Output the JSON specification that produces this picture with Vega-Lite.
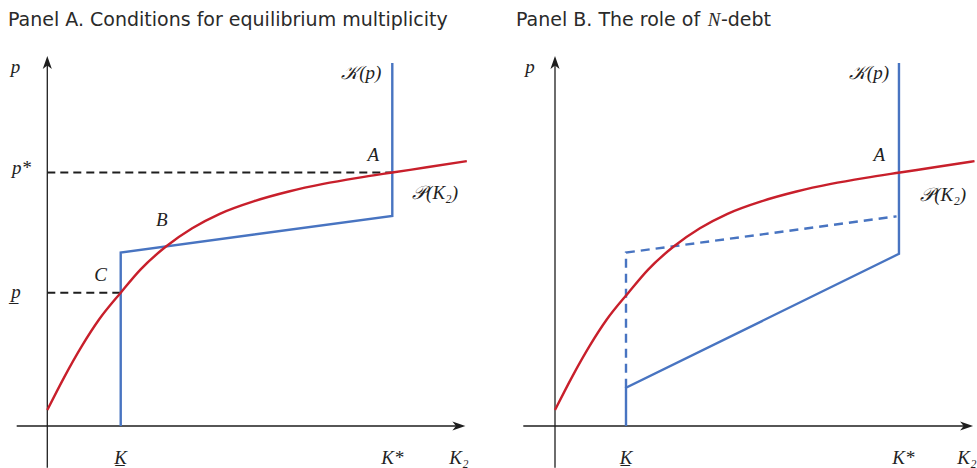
{
  "$schema": "https://vega.github.io/schema/vega-lite/v6.json",
  "padding": 0,
  "spacing": 0,
  "background": "white",
  "config": {"view": {"stroke": null}, "concat": {"spacing": 0}},
  "datasets": {
    "curve": [
      {"x": 0, "y": 0.063}, {"x": 0.05, "y": 0.195}, {"x": 0.1, "y": 0.315}, {"x": 0.15, "y": 0.42},
      {"x": 0.2128, "y": 0.526}, {"x": 0.27, "y": 0.617}, {"x": 0.344, "y": 0.708}, {"x": 0.42, "y": 0.78},
      {"x": 0.5, "y": 0.837}, {"x": 0.6, "y": 0.887}, {"x": 0.7, "y": 0.925}, {"x": 0.8, "y": 0.955},
      {"x": 0.9, "y": 0.979}, {"x": 1.0, "y": 1.0}, {"x": 1.1, "y": 1.0205}, {"x": 1.216, "y": 1.045}
    ],
    "axesA": [
      {"seg": "x", "i": 0, "x": -0.0887, "y": 0}, {"seg": "x", "i": 1, "x": 1.19, "y": 0},
      {"seg": "y", "i": 0, "x": 0, "y": -0.165}, {"seg": "y", "i": 1, "x": 0, "y": 1.425}
    ],
    "axesB": [
      {"seg": "x", "i": 0, "x": -0.0919, "y": 0}, {"seg": "x", "i": 1, "x": 1.19, "y": 0},
      {"seg": "y", "i": 0, "x": 0, "y": -0.165}, {"seg": "y", "i": 1, "x": 0, "y": 1.425}
    ],
    "arrows": [
      {"dir": "up", "x": 0, "y": 1.434},
      {"dir": "right", "x": 1.193, "y": 0}
    ],
    "blueA": [
      {"seg": "a", "i": 0, "x": 0.2128, "y": 0}, {"seg": "a", "i": 1, "x": 0.2128, "y": 0.684},
      {"seg": "a", "i": 2, "x": 1.0, "y": 0.829}, {"seg": "a", "i": 3, "x": 1.0, "y": 1.432}
    ],
    "dashA": [
      {"seg": "pstar", "i": 0, "x": 0, "y": 1.0}, {"seg": "pstar", "i": 1, "x": 1.0, "y": 1.0},
      {"seg": "plow", "i": 0, "x": 0, "y": 0.526}, {"seg": "plow", "i": 1, "x": 0.2128, "y": 0.526}
    ],
    "blueB": [
      {"seg": "a", "i": 0, "x": 0.2058, "y": 0}, {"seg": "a", "i": 1, "x": 0.2058, "y": 0.151},
      {"seg": "a", "i": 2, "x": 0.997, "y": 0.679}, {"seg": "a", "i": 3, "x": 0.997, "y": 1.432}
    ],
    "blueDashB": [
      {"seg": "a", "i": 0, "x": 0.2058, "y": 0.151}, {"seg": "a", "i": 1, "x": 0.2058, "y": 0.684},
      {"seg": "a", "i": 2, "x": 0.99, "y": 0.827}
    ],
    "labelsA": [
      {"label": "p", "x": -0.092, "y": 1.416},
      {"label": "p*", "x": -0.075, "y": 1.018},
      {"label": "p̲", "x": -0.091, "y": 0.529},
      {"label": "K̲", "x": 0.2128, "y": -0.126},
      {"label": "K*", "x": 1.0, "y": -0.126},
      {"label": "K₂", "x": 1.193, "y": -0.126},
      {"label": "A", "x": 0.945, "y": 1.069},
      {"label": "B", "x": 0.3316, "y": 0.8126},
      {"label": "C", "x": 0.1548, "y": 0.5957},
      {"label": "𝒦(p)", "x": 0.91, "y": 1.3925},
      {"label": "𝒫(K₂)", "x": 1.124, "y": 0.919}
    ],
    "labelsB": [
      {"label": "p", "x": -0.0725, "y": 1.416},
      {"label": "K̲", "x": 0.2058, "y": -0.126},
      {"label": "K*", "x": 1.01, "y": -0.126},
      {"label": "K₂", "x": 1.194, "y": -0.126},
      {"label": "A", "x": 0.94, "y": 1.069},
      {"label": "𝒦(p)", "x": 0.91, "y": 1.3925},
      {"label": "𝒫(K₂)", "x": 1.125, "y": 0.911}
    ],
    "titleA": [{"label": "Panel A. Conditions for equilibrium multiplicity", "x": -0.1139, "y": 1.579}],
    "titleB": [{"label": "Panel B. The role of ", "x": -0.113, "y": 1.579}],
    "titleBN": [{"label": "N", "x": 0.461, "y": 1.579}],
    "titleBrest": [{"label": "-debt", "x": 0.481, "y": 1.579}]
  },
  "hconcat": [
    {
      "width": 490,
      "height": 468,
      "encoding": {
        "x": {"field": "x", "type": "quantitative", "scale": {"domain": [-0.1371, 1.2832], "nice": false, "zero": false}, "axis": null},
        "y": {"field": "y", "type": "quantitative", "scale": {"domain": [-0.1657, 1.6805], "nice": false, "zero": false}, "axis": null}
      },
      "layer": [
        {"data": {"name": "axesA"}, "mark": {"type": "line", "color": "#1e1e1e", "strokeWidth": 1.3}, "encoding": {"detail": {"field": "seg"}, "order": {"field": "i"}}},
        {"data": {"name": "arrows"}, "mark": {"type": "point", "filled": true, "color": "#1e1e1e", "opacity": 1, "size": 169},
          "encoding": {"shape": {"field": "dir", "type": "nominal", "scale": {"domain": ["up", "right"], "range": ["M0,-1L0.7,1L0,0.45L-0.7,1Z", "M1,0L-1,0.7L-0.45,0L-1,-0.7Z"]}, "legend": null}}},
        {"data": {"name": "dashA"}, "mark": {"type": "line", "color": "#1e1e1e", "strokeWidth": 2, "strokeDash": [8, 5]}, "encoding": {"detail": {"field": "seg"}, "order": {"field": "i"}}},
        {"data": {"name": "blueA"}, "mark": {"type": "line", "color": "#4874c1", "strokeWidth": 2.4, "strokeJoin": "miter"}, "encoding": {"order": {"field": "i"}}},
        {"data": {"name": "curve"}, "mark": {"type": "line", "color": "#c81f2b", "strokeWidth": 2.4, "interpolate": "monotone"}},
        {"data": {"name": "labelsA"}, "mark": {"type": "text", "font": "Liberation Serif", "fontStyle": "italic", "fontSize": 19, "color": "#222", "align": "center", "baseline": "middle"}, "encoding": {"text": {"field": "label"}}},
        {"data": {"name": "titleA"}, "mark": {"type": "text", "font": "DejaVu Sans", "fontSize": 19, "color": "#2a2a2a", "align": "left", "baseline": "alphabetic"}, "encoding": {"text": {"field": "label"}}}
      ]
    },
    {
      "width": 487,
      "height": 468,
      "encoding": {
        "x": {"field": "x", "type": "quantitative", "scale": {"domain": [-0.18841, 1.22319], "nice": false, "zero": false}, "axis": null},
        "y": {"field": "y", "type": "quantitative", "scale": {"domain": [-0.1657, 1.6805], "nice": false, "zero": false}, "axis": null}
      },
      "layer": [
        {"data": {"name": "axesB"}, "mark": {"type": "line", "color": "#1e1e1e", "strokeWidth": 1.3}, "encoding": {"detail": {"field": "seg"}, "order": {"field": "i"}}},
        {"data": {"name": "arrows"}, "mark": {"type": "point", "filled": true, "color": "#1e1e1e", "opacity": 1, "size": 169},
          "encoding": {"shape": {"field": "dir", "type": "nominal", "scale": {"domain": ["up", "right"], "range": ["M0,-1L0.7,1L0,0.45L-0.7,1Z", "M1,0L-1,0.7L-0.45,0L-1,-0.7Z"]}, "legend": null}}},
        {"data": {"name": "blueDashB"}, "mark": {"type": "line", "color": "#4874c1", "strokeWidth": 2.4, "strokeDash": [9, 6]}, "encoding": {"order": {"field": "i"}}},
        {"data": {"name": "blueB"}, "mark": {"type": "line", "color": "#4874c1", "strokeWidth": 2.4, "strokeJoin": "miter"}, "encoding": {"order": {"field": "i"}}},
        {"data": {"name": "curve"}, "mark": {"type": "line", "color": "#c81f2b", "strokeWidth": 2.4, "interpolate": "monotone"}},
        {"data": {"name": "labelsB"}, "mark": {"type": "text", "font": "Liberation Serif", "fontStyle": "italic", "fontSize": 19, "color": "#222", "align": "center", "baseline": "middle"}, "encoding": {"text": {"field": "label"}}},
        {"data": {"name": "titleB"}, "mark": {"type": "text", "font": "DejaVu Sans", "fontSize": 19, "color": "#2a2a2a", "align": "left", "baseline": "alphabetic"}, "encoding": {"text": {"field": "label"}}},
        {"data": {"name": "titleBN"}, "mark": {"type": "text", "font": "Liberation Serif", "fontStyle": "italic", "fontSize": 19, "color": "#2a2a2a", "align": "center", "baseline": "alphabetic"}, "encoding": {"text": {"field": "label"}}},
        {"data": {"name": "titleBrest"}, "mark": {"type": "text", "font": "DejaVu Sans", "fontSize": 19, "color": "#2a2a2a", "align": "left", "baseline": "alphabetic"}, "encoding": {"text": {"field": "label"}}}
      ]
    }
  ]
}
